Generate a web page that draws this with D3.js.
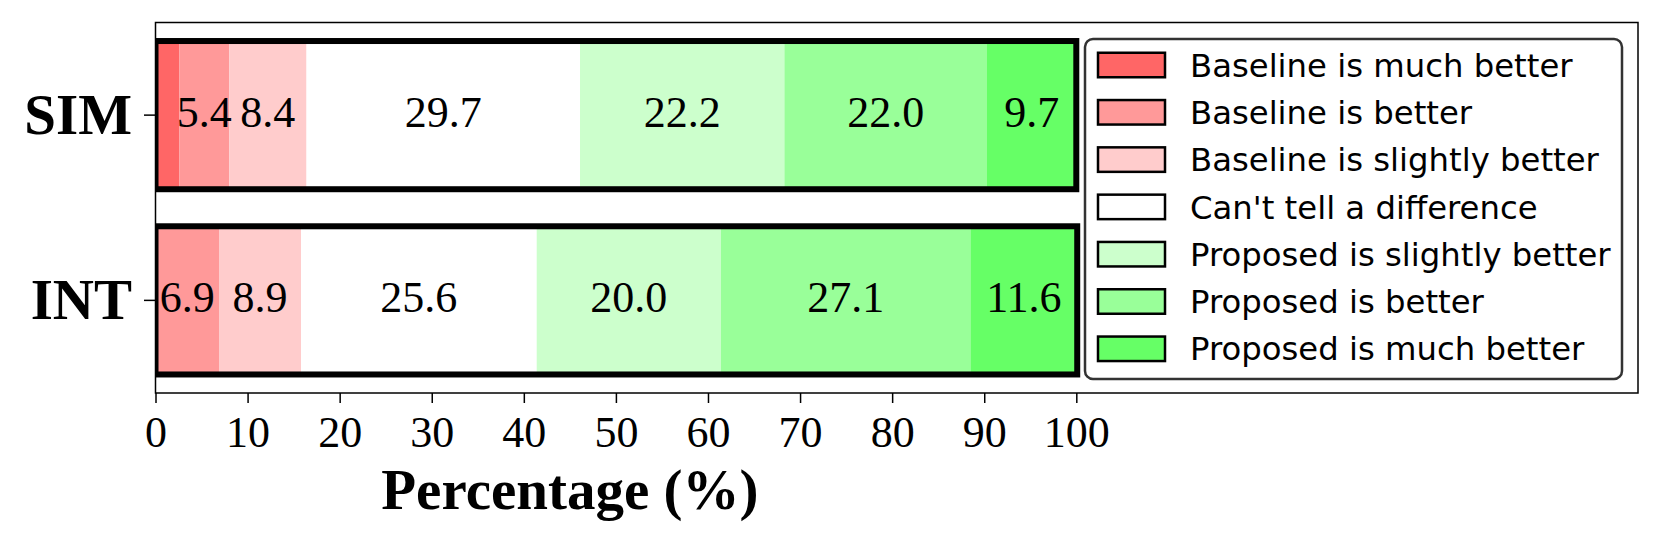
<!DOCTYPE html>
<html>
<head>
<meta charset="utf-8">
<script src="https://cdn.jsdelivr.net/npm/d3@7"></script>
<style>
  body { margin: 0; background: #fff; }
  svg { display: block; }
</style>
</head>
<body>
<div id="chart"></div>
<script>
// data
const categories = ['SIM', 'INT']
const levels = [
  'Baseline is much better',
  'Baseline is better',
  'Baseline is slightly better',
  "Can't tell a difference",
  'Proposed is slightly better',
  'Proposed is better',
  'Proposed is much better'
]
const colors = ['#ff6666', '#ff9999', '#ffcccc', '#ffffff', '#ccffcc', '#99ff99', '#66ff66']
const simValues = [2.6, 5.4, 8.4, 29.7, 22.2, 22.0, 9.7]
const intValues = [0, 6.9, 8.9, 25.6, 20.0, 27.1, 11.6]
const xTicks = [0, 10, 20, 30, 40, 50, 60, 70, 80, 90, 100]

var width = 1661
var height = 545
var plot = { left: 155.5, top: 22.5, right: 1638, bottom: 393 }

var serif = "'Liberation Serif', 'Times New Roman', serif"
var sans = "'DejaVu Sans', sans-serif"

var svg = d3.select('#chart').append('svg')
  .attr('width', width)
  .attr('height', height)

svg.append('rect').attr('width', width).attr('height', height).attr('fill', '#fff')

// x runs past 100 so the legend fits inside the axes
var x = d3.scaleLinear().domain([0, 161]).range([plot.left, plot.right])
var y = d3.scaleBand().domain(categories).range([plot.top, plot.bottom])
  .paddingInner(0.2).paddingOuter(0.1)

svg.append('clipPath').attr('id', 'plotClip')
  .append('rect')
  .attr('x', plot.left).attr('y', plot.top)
  .attr('width', plot.right - plot.left).attr('height', plot.bottom - plot.top)

var rows = [
  { name: 'SIM', values: simValues },
  { name: 'INT', values: intValues }
]

// stack each row into segments
rows.forEach(r => {
  var acc = 0
  r.segs = r.values.map((v, i) => {
    var s = { x0: acc, x1: acc + v, v: v, i: i, name: r.name }
    acc += v
    return s
  })
  r.total = acc
})

var barG = svg.append('g').attr('clip-path', 'url(#plotClip)')

rows.forEach(r => {
  var g = barG.append('g')
  g.selectAll('rect.seg')
    .data(r.segs.filter(s => s.v > 0))
    .enter().append('rect')
    .attr('class', 'seg')
    .attr('x', d => x(d.x0))
    .attr('y', y(r.name))
    .attr('width', d => x(d.x1) - x(d.x0))
    .attr('height', y.bandwidth())
    .attr('fill', d => colors[d.i])

  // thick outline round the whole bar
  g.append('rect')
    .attr('x', x(0))
    .attr('y', y(r.name))
    .attr('width', x(r.total) - x(0))
    .attr('height', y.bandwidth())
    .attr('fill', 'none')
    .attr('stroke', '#000')
    .attr('stroke-width', 6)

  g.selectAll('text.val')
    .data(r.segs.filter(s => s.v > 3))
    .enter().append('text')
    .attr('class', 'val')
    .attr('x', d => x((d.x0 + d.x1) / 2))
    .attr('y', y(r.name) + y.bandwidth() / 2 + 12)
    .attr('text-anchor', 'middle')
    .style('font-family', serif)
    .style('font-size', '44px')
    .text(d => d.v.toFixed(1))
})

// axes frame
svg.append('rect')
  .attr('x', plot.left).attr('y', plot.top)
  .attr('width', plot.right - plot.left).attr('height', plot.bottom - plot.top)
  .attr('fill', 'none').attr('stroke', '#000').attr('stroke-width', 1.5)

// x axis
var xAxis = svg.append('g')
  .attr('transform', 'translate(0,' + plot.bottom + ')')
  .call(d3.axisBottom(x).tickValues(xTicks).tickSize(10).tickFormat(d3.format('d')))
xAxis.select('.domain').remove()
xAxis.selectAll('line').attr('stroke', '#000').attr('stroke-width', 1.5)
xAxis.selectAll('text')
  .attr('y', 54).attr('dy', null)
  .attr('fill', '#000')
  .style('font-family', serif)
  .style('font-size', '44px')

// y axis
var yAxis = svg.append('g')
  .attr('transform', 'translate(' + plot.left + ',0)')
  .call(d3.axisLeft(y).tickSize(11.5).tickPadding(12))
yAxis.select('.domain').remove()
yAxis.selectAll('line').attr('stroke', '#000').attr('stroke-width', 1.5)
yAxis.selectAll('text')
  .attr('dy', '0.33em')
  .attr('fill', '#000')
  .style('font-family', serif)
  .style('font-size', '57px')
  .style('font-weight', 'bold')

svg.append('text')
  .attr('x', x(45))
  .attr('y', 509)
  .attr('text-anchor', 'middle')
  .style('font-family', serif)
  .style('font-size', '57px')
  .style('font-weight', 'bold')
  .text('Percentage (%)')

// legend
var legend = svg.append('g')
legend.append('rect')
  .attr('x', 1085).attr('y', 39)
  .attr('width', 537).attr('height', 340)
  .attr('rx', 8).attr('ry', 8)
  .attr('fill', '#fff')
  .attr('stroke', '#333').attr('stroke-width', 2.5)

var item = legend.selectAll('g.item')
  .data(levels)
  .enter().append('g')
  .attr('class', 'item')
  .attr('transform', (d, i) => 'translate(0,' + (65 + i * 47.3) + ')')

item.append('rect')
  .attr('x', 1098).attr('y', -12.25)
  .attr('width', 67).attr('height', 24.5)
  .attr('fill', (d, i) => colors[i])
  .attr('stroke', '#000').attr('stroke-width', 2.5)

item.append('text')
  .attr('x', 1190)
  .attr('dy', '0.36em')
  .style('font-family', sans)
  .style('font-size', '32.3px')
  .text(d => d)
</script>
</body>
</html>
